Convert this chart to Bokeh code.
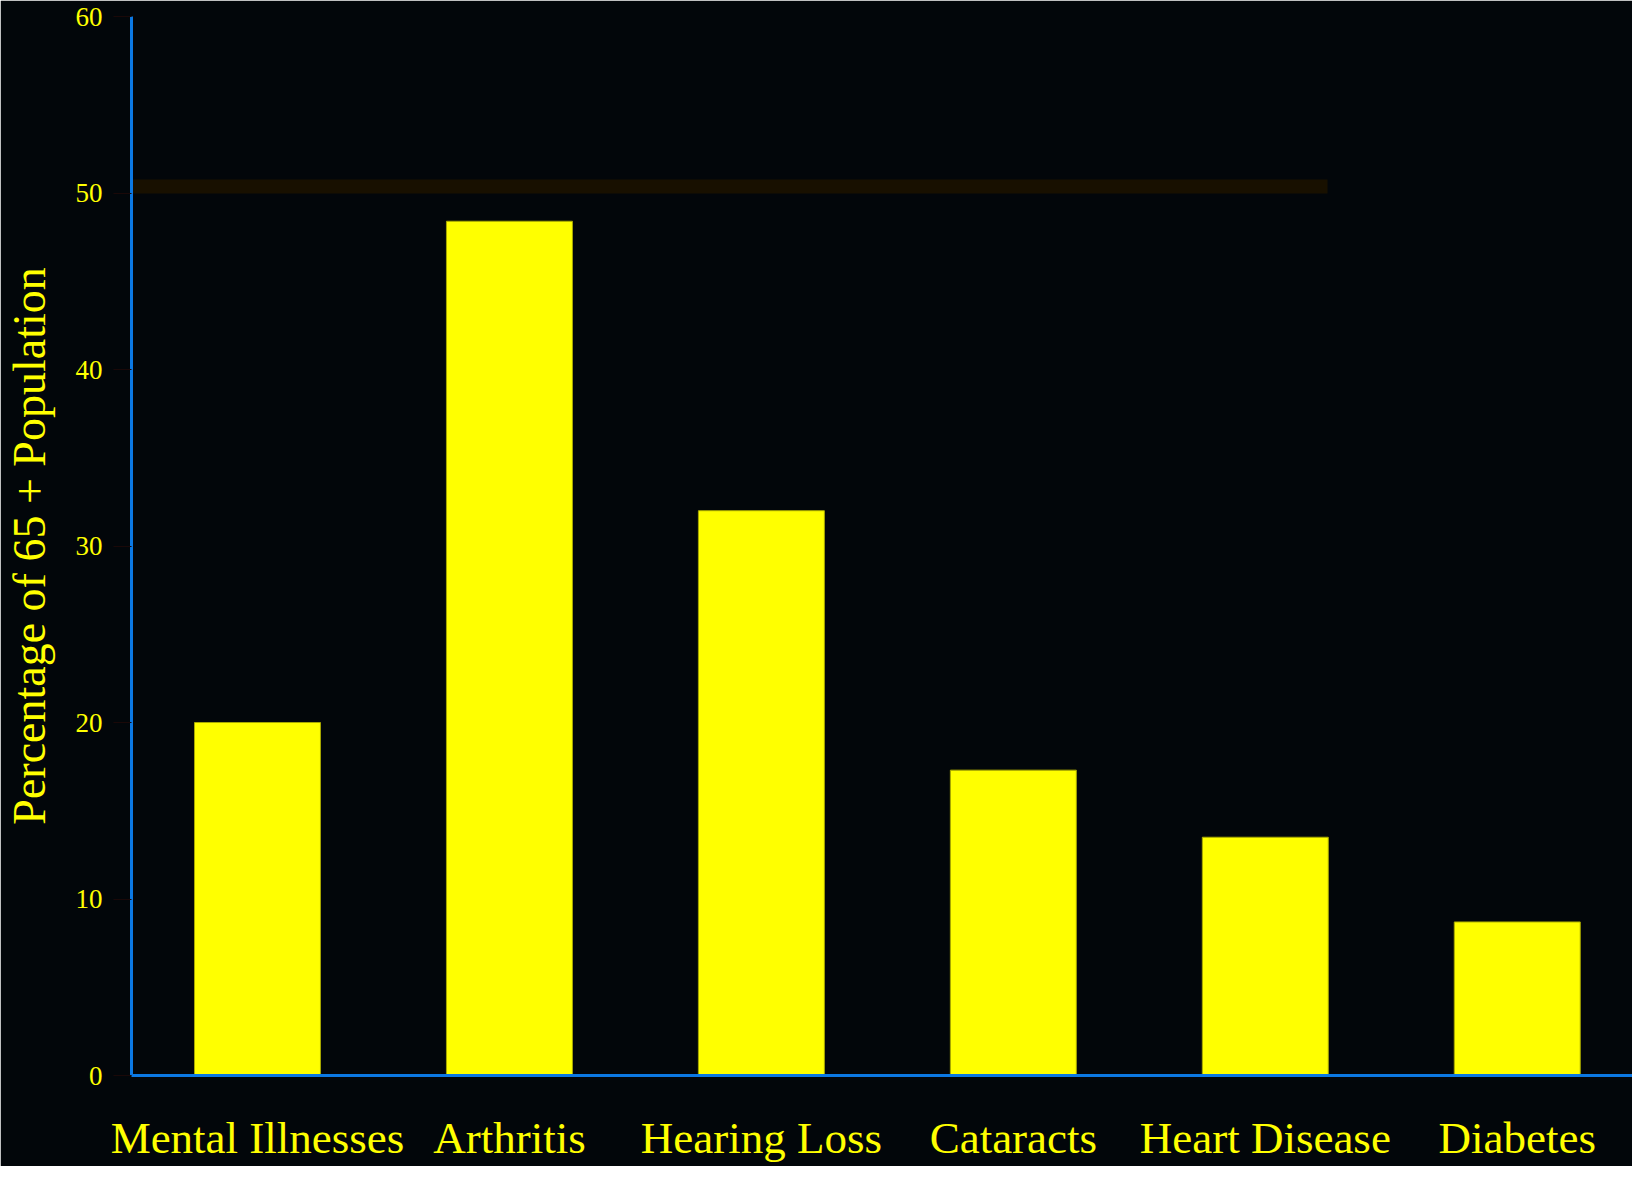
from bokeh.plotting import figure
from bokeh.models import Range1d, FixedTicker, BoxAnnotation, ColumnDataSource
from bokeh.embed import file_html
from bokeh.resources import INLINE

categories = ["Mental Illnesses", "Arthritis", "Hearing Loss", "Cataracts", "Heart Disease", "Diabetes"]
percentages = [20.0, 48.4, 32.0, 17.3, 13.5, 8.7]
y_ticks = [0, 10, 20, 30, 40, 50, 60]
y_title = "Percentage of 65 + Population"

BG = "#02060a"
YEL = "#ffff00"
BLUE = "#0b78e3"
BAND = "#181000"
FONT = "Liberation Serif"

W, H = 1632, 1166
LEFT, TOP, BOTTOM = 123, 16, 91
CAT_PX = 253.3
x_end = (W - LEFT) / CAT_PX

centers = [i + 0.5 for i in range(len(categories))]
src = ColumnDataSource(dict(x=centers, top=percentages, name=categories))

p = figure(width=W, height=H, x_range=Range1d(0, x_end), y_range=Range1d(0, 60),
           output_backend="svg", toolbar_location=None,
           min_border_left=LEFT, min_border_right=0, min_border_top=TOP, min_border_bottom=BOTTOM)
p.background_fill_color = BG
p.border_fill_color = BG
p.outline_line_color = BG
p.outline_line_width = 2
p.grid.visible = False

# dark band near 50
p.add_layout(BoxAnnotation(left=0, right=1327, top=179, bottom=193,
                           left_units="canvas", right_units="canvas", top_units="canvas", bottom_units="canvas",
                           fill_color=BAND, fill_alpha=1, line_alpha=0, level="underlay"))

p.vbar(x="x", top="top", width=0.5, bottom=0, source=src,
       fill_color=YEL, line_color="#a8a800", line_width=1)

xa = p.xaxis[0]
xa.ticker = FixedTicker(ticks=centers)
xa.major_label_overrides = {c: n for c, n in zip(centers, categories)}
xa.axis_line_color = BLUE
xa.axis_line_width = 3
xa.major_tick_line_color = "#000000"
xa.major_tick_out = 0
xa.major_tick_in = 0
xa.minor_tick_line_color = None
xa.major_label_standoff = 37
xa.major_label_text_font = FONT
xa.major_label_text_font_size = "45px"
xa.major_label_text_color = YEL

ya = p.yaxis[0]
ya.ticker = FixedTicker(ticks=y_ticks)
ya.axis_line_color = BLUE
ya.axis_line_width = 3
ya.major_tick_line_color = "#1a0808"
ya.major_tick_out = 18
ya.major_tick_in = 0
ya.minor_tick_line_color = None
ya.major_label_standoff = 11
ya.major_label_text_font = FONT
ya.major_label_text_font_size = "27px"
ya.major_label_text_color = YEL
ya.axis_label = y_title
ya.axis_label_text_font = FONT
ya.axis_label_text_font_size = "46px"
ya.axis_label_text_font_style = "normal"
ya.axis_label_text_color = YEL
ya.axis_label_standoff = 18

open("out.html", "w").write(file_html(p, INLINE))
